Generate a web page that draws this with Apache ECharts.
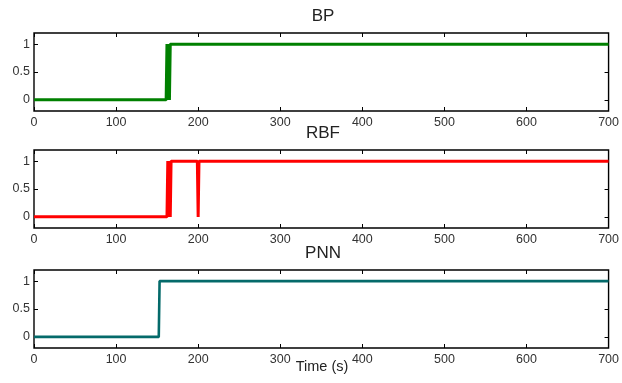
<!DOCTYPE html>
<html>
<head>
<meta charset="utf-8">
<script src="https://cdn.jsdelivr.net/npm/echarts@6/dist/echarts.min.js"></script>
<style>
html,body{margin:0;padding:0;background:#fff;}
#chart{width:622px;height:383px;}
</style>
</head>
<body>
<div id="chart"></div>
<script>
// ---- data ----
const panelTitles = ['BP', 'RBF', 'PNN'];
const xTicks = [0, 100, 200, 300, 400, 500, 600, 700];
const yTicks = [0, 0.5, 1];
const xLabel = 'Time (s)';

const bpTime  = [0, 161, 162, 163, 164, 165, 166, 700];
const bpValue = [0, 0,   1,   0,   1,   0,   1,   1];

const rbfTime  = [0, 162, 163, 164, 165, 166, 167, 199, 200, 201, 700];
const rbfValue = [0, 0,   1,   0,   1,   0,   1,   1,   0,   1,   1];

const pnnTime  = [0, 152, 153, 700];
const pnnValue = [0, 0,   1,   1];

const seriesColors = ['#008000', '#ff0000', '#046a6a'];
const seriesWidths = [3, 3, 2.6];

function pairs(t, v){ return t.map((x, i) => [x, v[i]]); }
const allData = [pairs(bpTime, bpValue), pairs(rbfTime, rbfValue), pairs(pnnTime, pnnValue)];

const gridTops = [33, 150, 270];
const gridH = 78;
const labelFont = {fontFamily: 'Liberation Sans, Arial, sans-serif', fontSize: 12.5, color: '#333'};

const grids = [], xAxes = [], yAxes = [], series = [], titles = [];
gridTops.forEach((top, i) => {
  grids.push({left: 34, right: 10, top: top, height: gridH, show: true,
    borderColor: '#000', borderWidth: 1.4, backgroundColor: '#fff'});
  const xBase = {type: 'value', gridIndex: i, min: 0, max: 700, interval: 100,
    splitLine: {show: false}, axisLine: {show: false, onZero: false},
    axisTick: {show: true, inside: true, length: 4, customValues: xTicks, lineStyle: {color: '#000', width: 1}}};
  xAxes.push(Object.assign({}, xBase, {position: 'bottom',
    axisLabel: Object.assign({margin: 5, customValues: xTicks}, labelFont)}));
  xAxes.push(Object.assign({}, xBase, {position: 'top', axisLabel: {show: false}}));
  const yBase = {type: 'value', gridIndex: i, min: -0.2, max: 1.2,
    splitLine: {show: false}, axisLine: {show: false, onZero: false},
    axisTick: {show: true, inside: true, length: 4, customValues: yTicks, lineStyle: {color: '#000', width: 1}}};
  yAxes.push(Object.assign({}, yBase, {position: 'left',
    axisLabel: Object.assign({margin: 4, customValues: yTicks, formatter: v => String(v)}, labelFont)}));
  yAxes.push(Object.assign({}, yBase, {position: 'right', axisLabel: {show: false}}));
  series.push({type: 'line', xAxisIndex: 2 * i, yAxisIndex: 2 * i, data: allData[i],
    showSymbol: false, symbol: 'none', animation: false,
    lineStyle: {color: seriesColors[i], width: seriesWidths[i]}, z: 3});
  titles.push({text: panelTitles[i], left: 323, top: top - 25, textAlign: 'center', padding: 0,
    textStyle: {fontFamily: 'Liberation Sans, Arial, sans-serif', fontSize: 17, fontWeight: 'normal', color: '#222'}});
});
titles.push({text: xLabel, left: 322, top: 359, textAlign: 'center', padding: 0,
  textStyle: {fontFamily: 'Liberation Sans, Arial, sans-serif', fontSize: 14.5, fontWeight: 'normal', color: '#222'}});

const chart = echarts.init(document.getElementById('chart'), null, {renderer: 'canvas'});
chart.setOption({
  animation: false,
  backgroundColor: '#fff',
  title: titles,
  grid: grids,
  xAxis: xAxes,
  yAxis: yAxes,
  series: series
});
</script>
</body>
</html>
